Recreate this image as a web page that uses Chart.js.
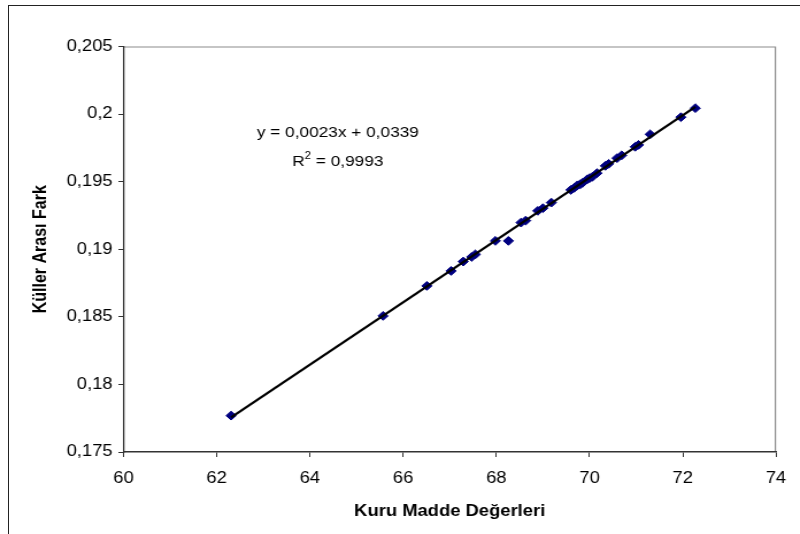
<!DOCTYPE html>
<html>
<head>
<meta charset="utf-8">
<script src="https://cdn.jsdelivr.net/npm/chart.js@4/dist/chart.umd.min.js"></script>
<style>
  body { margin: 0; background: #fff; overflow: hidden; }
  #wrap { position: relative; width: 800px; height: 534px; overflow: hidden; }
  /* the original picture is a bit wider than tall, so stretch the canvas sideways */
  #kulChart { display: block; transform: scaleX(1.1494); transform-origin: 0 0; }
  #frame { position: absolute; left: 8px; top: 5px; width: 900px; height: 700px;
           border-left: 1px solid #222; border-top: 1px solid #222; pointer-events: none; }
</style>
</head>
<body>
<div id="wrap">
  <canvas id="kulChart" width="696" height="534"></canvas>
  <div id="frame"></div>
</div>
<script>
// values
const kuruMadde = [62.31, 65.57, 66.51, 67.03, 67.29, 67.47, 67.55, 67.98, 68.26, 68.53,
  68.63, 68.89, 69.00, 69.18, 69.60, 69.67, 69.74, 69.80, 69.85, 69.95, 70.00, 70.06,
  70.16, 70.34, 70.41, 70.59, 70.69, 70.98, 71.05, 71.30, 71.96, 72.27];
const kullerFark = [0.17769, 0.18507, 0.18729, 0.18840, 0.18909, 0.18943, 0.18962, 0.19062, 0.19062, 0.19197,
  0.19212, 0.19284, 0.19304, 0.19345, 0.19439, 0.19454, 0.19473, 0.19481, 0.19491, 0.19517, 0.19526, 0.19536,
  0.19563, 0.19617, 0.19632, 0.19674, 0.19695, 0.19758, 0.19772, 0.19850, 0.19977, 0.20044];
const xTicks = [60, 62, 64, 66, 68, 70, 72, 74];
const yTicks = [0.175, 0.18, 0.185, 0.19, 0.195, 0.2, 0.205];
const equationText = 'y = 0,0023x + 0,0339';
const r2Value = '0,9993';

// least squares trendline from the points
const n = kuruMadde.length;
const mx = kuruMadde.reduce((a, b) => a + b, 0) / n;
const my = kullerFark.reduce((a, b) => a + b, 0) / n;
let sxy = 0, sxx = 0;
kuruMadde.forEach((x, i) => { sxy += (x - mx) * (kullerFark[i] - my); sxx += (x - mx) * (x - mx); });
const slope = sxy / sxx;
const intercept = my - slope * mx;
const xMin = Math.min(...kuruMadde), xMax = Math.max(...kuruMadde);

const FONT = "'Liberation Sans', Arial, sans-serif";
const comma = v => String(+v.toFixed(3)).replace('.', ',');

// white background, gray plot border and the equation text
const excelLook = {
  id: 'excelLook',
  beforeDraw(chart) {
    const { ctx, chartArea: a } = chart;
    ctx.save();
    ctx.fillStyle = '#fff';
    ctx.fillRect(0, 0, chart.width, chart.height);
    ctx.strokeStyle = '#8c8c8c';
    ctx.lineWidth = 1.2;
    ctx.beginPath();
    ctx.moveTo(a.left, a.top + 0.5);
    ctx.lineTo(a.right - 0.5, a.top + 0.5);
    ctx.lineTo(a.right - 0.5, a.bottom);
    ctx.stroke();
    ctx.restore();
  },
  afterDraw(chart) {
    const { ctx } = chart;
    const xs = chart.scales.x, ys = chart.scales.y;
    ctx.save();
    ctx.fillStyle = '#000';
    ctx.font = '15px ' + FONT;
    ctx.textAlign = 'center';
    ctx.textBaseline = 'middle';
    const cx = xs.getPixelForValue(64.6);
    ctx.fillText(equationText, cx, ys.getPixelForValue(0.1986));
    // R² with superscript
    const base = 'R', rest = ' = ' + r2Value;
    const wBase = ctx.measureText(base).width;
    ctx.font = '10px ' + FONT;
    const wSup = ctx.measureText('2').width;
    ctx.font = '15px ' + FONT;
    const wRest = ctx.measureText(rest).width;
    const x0 = cx - (wBase + wSup + wRest) / 2;
    const y2 = ys.getPixelForValue(0.19645);
    ctx.textAlign = 'left';
    ctx.fillText(base, x0, y2);
    ctx.font = '10px ' + FONT;
    ctx.fillText('2', x0 + wBase, y2 - 6);
    ctx.font = '15px ' + FONT;
    ctx.fillText(rest, x0 + wBase + wSup, y2);
    ctx.restore();
  }
};

new Chart(document.getElementById('kulChart'), {
  type: 'scatter',
  data: {
    datasets: [
      {
        label: 'Doğrusal',
        data: [{ x: xMin, y: slope * xMin + intercept }, { x: xMax, y: slope * xMax + intercept }],
        showLine: true,
        borderColor: '#000',
        borderWidth: 2.2,
        pointRadius: 0,
        order: 0
      },
      {
        label: 'Küller Arası Fark',
        data: kuruMadde.map((x, i) => ({ x, y: kullerFark[i] })),
        pointStyle: 'rectRot',
        pointRadius: 4.4,
        backgroundColor: '#000080',
        borderColor: '#000080',
        borderWidth: 1,
        order: 1
      }
    ]
  },
  options: {
    responsive: false,
    animation: false,
    layout: { padding: { top: 46.5, right: 13.4, left: 0, bottom: 0 } },
    plugins: { legend: { display: false }, tooltip: { enabled: false } },
    scales: {
      x: {
        type: 'linear',
        min: 60, max: 74,
        afterBuildTicks: s => { s.ticks = xTicks.map(v => ({ value: v })); },
        afterFit: s => { s.height = 82; },
        grid: { drawOnChartArea: false, drawTicks: true, tickLength: 5, color: '#333' },
        border: { color: '#333', width: 1.5 },
        ticks: { color: '#000', padding: 12, maxRotation: 0, font: { family: FONT, size: 16 } },
        title: { display: true, text: 'Kuru Madde Değerleri', color: '#000', padding: { top: 0, bottom: 13 },
          font: { family: FONT, size: 16, weight: 'bold' } }
      },
      y: {
        min: 0.175, max: 0.205,
        afterBuildTicks: s => { s.ticks = yTicks.map(v => ({ value: v })); },
        afterFit: s => { s.width = 107.4; },
        grid: { drawOnChartArea: false, drawTicks: true, tickLength: 4.4, color: '#333' },
        border: { color: '#333', width: 1.3 },
        ticks: { color: '#000', padding: 5, callback: v => comma(v), font: { family: FONT, size: 16 } },
        title: { display: true, text: 'Küller Arası Fark', color: '#000', padding: { top: 26, bottom: 0 },
          font: { family: FONT, size: 16, weight: 'bold' } }
      }
    }
  },
  plugins: [excelLook]
});
</script>
</body>
</html>
